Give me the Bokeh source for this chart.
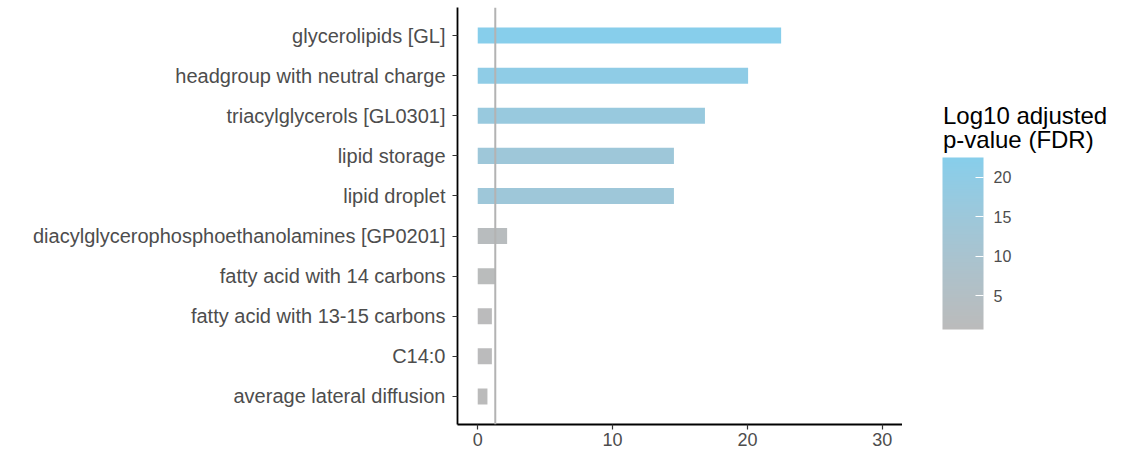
import numpy as np
from bokeh.plotting import figure
from bokeh.layouts import row
from bokeh.models import (ColorBar, LinearColorMapper, FixedTicker, Span, Label,
                          Range1d, FactorRange, ColumnDataSource)
from bokeh.transform import transform
from bokeh.embed import file_html
from bokeh.resources import INLINE

# ---------------- data ----------------
terms = [
    "glycerolipids [GL]",
    "headgroup with neutral charge",
    "triacylglycerols [GL0301]",
    "lipid storage",
    "lipid droplet",
    "diacylglycerophosphoethanolamines [GP0201]",
    "fatty acid with 14 carbons",
    "fatty acid with 13-15 carbons",
    "C14:0",
    "average lateral diffusion",
]
log10_fdr = [22.5, 20.05, 16.85, 14.55, 14.55, 2.18, 1.32, 1.05, 1.05, 0.72]
threshold = 1.301  # -log10(0.05)
x_ticks = [0, 10, 20, 30]
legend_ticks = [5, 10, 15, 20]
legend_title_lines = ["Log10 adjusted", "p-value (FDR)"]

# ---------------- colour gradient (Lab interpolation like ggplot) ----------------
LOW, HIGH = "#BBBBBB", "#87CEEB"
M = np.array([[0.4124, 0.3576, 0.1805],
              [0.2126, 0.7152, 0.0722],
              [0.0193, 0.1192, 0.9505]])
WHITE = np.array([0.95047, 1.0, 1.08883])


def hex_to_rgb(h):
    h = h.lstrip("#")
    return np.array([int(h[i:i + 2], 16) for i in (0, 2, 4)], dtype=float) / 255.0


def rgb_to_lab(rgb):
    lin = np.where(rgb <= 0.04045, rgb / 12.92, ((rgb + 0.055) / 1.055) ** 2.4)
    xyz = M @ lin / WHITE
    d = 6 / 29
    f = np.where(xyz > d ** 3, np.cbrt(xyz), xyz / (3 * d * d) + 4 / 29)
    return np.array([116 * f[1] - 16, 500 * (f[0] - f[1]), 200 * (f[1] - f[2])])


def lab_to_hex(lab):
    L, a, b = lab
    fy = (L + 16) / 116
    f = np.array([fy + a / 500, fy, fy - b / 200])
    d = 6 / 29
    xyz = np.where(f > d, f ** 3, 3 * d * d * (f - 4 / 29)) * WHITE
    lin = np.clip(np.linalg.inv(M) @ xyz, 0, 1)
    rgb = np.where(lin <= 0.0031308, 12.92 * lin, 1.055 * lin ** (1 / 2.4) - 0.055)
    rgb = np.clip(np.round(rgb * 255), 0, 255).astype(int)
    return "#%02x%02x%02x" % tuple(rgb)


lab_lo, lab_hi = rgb_to_lab(hex_to_rgb(LOW)), rgb_to_lab(hex_to_rgb(HIGH))
palette = [lab_to_hex(lab_lo + (lab_hi - lab_lo) * t) for t in np.linspace(0, 1, 256)]

mapper = LinearColorMapper(palette=palette, low=min(log10_fdr), high=max(log10_fdr))

# ---------------- main figure ----------------
FONT = "Liberation Sans"
W_MAIN, W_LEG, H = 902, 229, 455
src = ColumnDataSource(dict(term=terms, value=log10_fdr))

p = figure(
    width=W_MAIN, height=H,
    y_range=FactorRange(factors=terms[::-1], range_padding=0.2,
                        range_padding_units="absolute"),
    x_range=Range1d(-1.5, 31.5),
    output_backend="svg", toolbar_location=None,
    min_border_left=457, min_border_right=0,
    min_border_top=7, min_border_bottom=31,
    frame_align=False,
)

p.hbar(y="term", left=0, right="value", height=0.4, source=src,
       fill_color=transform("value", mapper), line_color=None)

p.add_layout(Span(location=threshold, dimension="height",
                  line_color="#B3B3B3", line_width=2))

p.outline_line_color = None
p.xgrid.visible = False
p.ygrid.visible = False
p.background_fill_color = "white"
p.border_fill_color = "white"

for ax in (p.xaxis, p.yaxis):
    ax.axis_line_color = "black"
    ax.axis_line_width = 1.8
    ax.major_tick_line_color = "#333333"
    ax.major_tick_line_width = 1.2
    ax.major_tick_out = 5
    ax.major_tick_in = 0
    ax.minor_tick_line_color = None
    ax.major_label_text_font = FONT
    ax.major_label_text_color = "#4D4D4D"

p.xaxis.ticker = FixedTicker(ticks=x_ticks)
p.xaxis.major_label_text_font_size = "18px"
p.xaxis.major_label_standoff = 3
p.yaxis.major_label_text_font_size = "20px"
p.yaxis.major_label_standoff = 7

# ---------------- legend figure ----------------
leg = figure(
    width=W_LEG, height=H,
    x_range=Range1d(0, W_LEG), y_range=Range1d(0, H),
    output_backend="svg", toolbar_location=None,
    min_border_left=0, min_border_right=0, min_border_top=0, min_border_bottom=0,
    frame_align=False,
)
leg.axis.visible = False
leg.xgrid.visible = False
leg.ygrid.visible = False
leg.outline_line_color = None
leg.background_fill_color = "white"
leg.border_fill_color = "white"

color_bar = ColorBar(
    color_mapper=mapper,
    ticker=FixedTicker(ticks=legend_ticks),
    width=41, height=172,
    location=(40, 126),
    padding=0,
    major_label_text_font=FONT,
    major_label_text_font_size="16px",
    major_label_text_color="#4D4D4D",
    label_standoff=10,
    major_tick_line_color="white",
    major_tick_in=8,
    major_tick_out=0,
    minor_tick_line_color=None,
    bar_line_color=None,
    border_line_color=None,
    background_fill_color=None,
)
leg.add_layout(color_bar, "center")

for i, line in enumerate(legend_title_lines):
    leg.add_layout(Label(x=40.5, y=340 - 24 * i,
                         text=line, text_font=FONT, text_font_size="24px",
                         text_color="black", text_baseline="alphabetic",
                         text_align="left"))

layout = row(p, leg, spacing=0)
open("out.html", "w").write(file_html(layout, INLINE))
